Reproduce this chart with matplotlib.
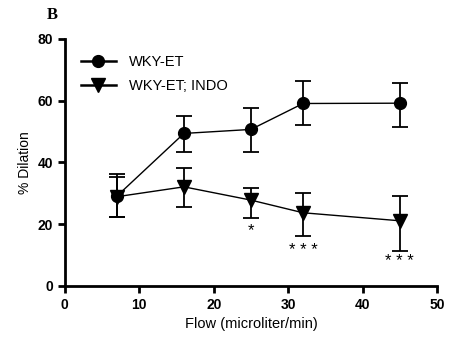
import matplotlib
matplotlib.use('Agg')
import matplotlib.pyplot as plt

matplotlib.rc('font', family='Liberation Sans', weight='bold', size=8)

# data
flow = [7, 16, 25, 32, 45]
wky_et = [29.1, 49.4, 50.7, 59.1, 59.2]
wky_et_err_lo = [6.9, 5.9, 7.2, 7.0, 7.7]
wky_et_err_hi = [7.1, 5.7, 7.1, 7.2, 6.5]
wky_indo = [28.9, 32.1, 27.8, 23.7, 21.1]
wky_indo_err_lo = [6.7, 6.6, 5.9, 7.5, 9.7]
wky_indo_err_hi = [6.5, 6.0, 3.8, 6.3, 8.0]
star_x = [25, 32, 45]
star_y = [17.9, 11.6, 7.9]
star_text = ['*', '* * *', '* * *']

fig = plt.figure(figsize=(4.66, 3.42), dpi=100)
ax = fig.add_axes([0.139, 0.164, 0.799, 0.722])

et = ax.errorbar(flow, wky_et, yerr=[wky_et_err_lo, wky_et_err_hi],
                 color='black', marker='o', markersize=8.5, linewidth=1,
                 elinewidth=1.3, capsize=6, capthick=1.3)
indo = ax.errorbar(flow, wky_indo, yerr=[wky_indo_err_lo, wky_indo_err_hi],
                   color='black', marker='v', markersize=10, linewidth=1,
                   elinewidth=1.3, capsize=6, capthick=1.3)

for x, y, t in zip(star_x, star_y, star_text):
    ax.text(x, y, t, ha='center', va='center', fontsize=12,
            fontweight='normal')

ax.set_xlim(0, 50)
ax.set_ylim(0, 80)
ax.set_xticks([0, 10, 20, 30, 40, 50])
ax.set_yticks([0, 20, 40, 60, 80])
ax.spines['top'].set_visible(False)
ax.spines['right'].set_visible(False)
ax.spines['left'].set_linewidth(2)
ax.spines['bottom'].set_linewidth(2)
ax.tick_params(width=2, length=5, labelsize=10)
ax.set_xlabel('Flow (microliter/min)', fontsize=10.5, labelpad=4)
ax.set_ylabel('% Dilation', fontsize=10, labelpad=4)

# legend shows line + marker only
leg = ax.legend([et[0], indo[0]], ['WKY-ET', 'WKY-ET; INDO'],
                loc='upper left', bbox_to_anchor=(0.02, 0.97), frameon=False,
                fontsize=10.5, handlelength=2.4, handletextpad=0.9,
                labelspacing=0.7, borderaxespad=0.2)
for t in leg.get_texts():
    t.set_fontweight('normal')
for line in leg.get_lines():
    line.set_linewidth(1.8)

fig.text(0.10, 0.955, 'B', fontsize=12, fontweight='bold',
         family='Liberation Serif', va='center')

fig.savefig('out.png', dpi=100)
